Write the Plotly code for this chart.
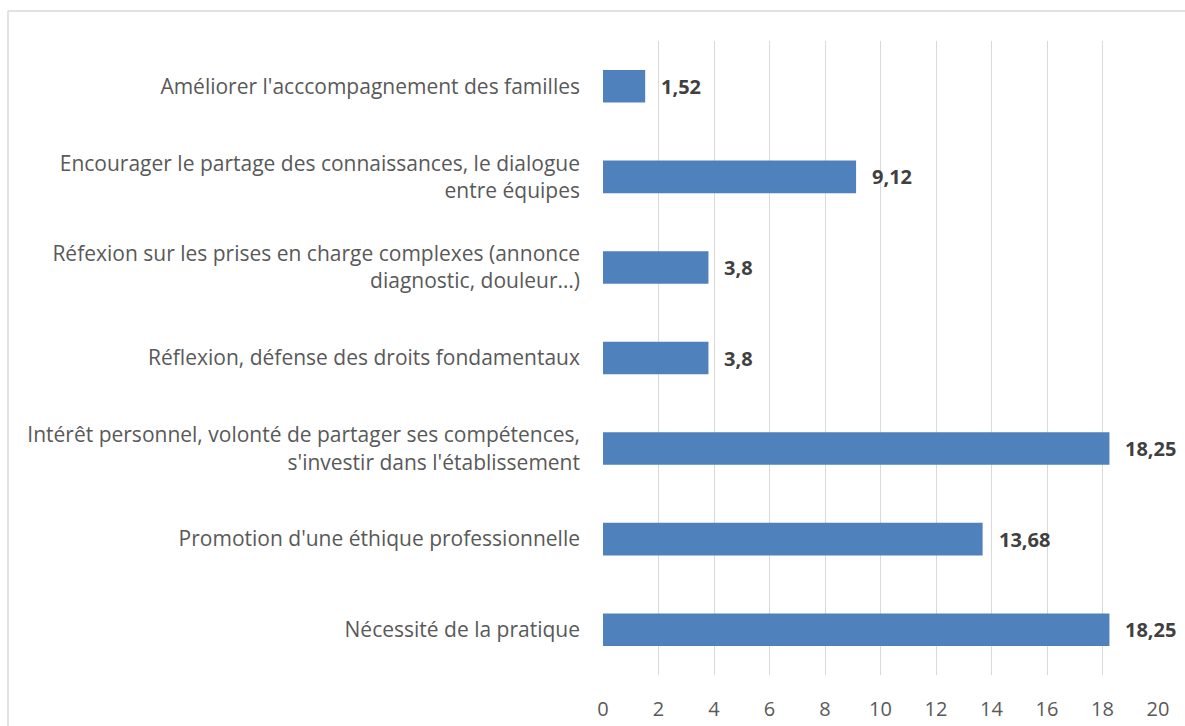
import plotly.graph_objects as go

categories = [
    "Améliorer l'acccompagnement des familles",
    "Encourager le partage des connaissances, le dialogue<br>entre équipes",
    "Réfexion sur les prises en charge complexes (annonce<br>diagnostic, douleur…)",
    "Réflexion, défense des droits fondamentaux",
    "Intérêt personnel, volonté de partager ses compétences,<br>s'investir dans l'établissement",
    "Promotion d'une éthique professionnelle",
    "Nécessité de la pratique",
]
values = [1.52, 9.12, 3.8, 3.8, 18.25, 13.68, 18.25]
labels = ["1,52", "9,12", "3,8", "3,8", "18,25", "13,68", "18,25"]
x_ticks = [0, 2, 4, 6, 8, 10, 12, 14, 16, 18, 20]

fig = go.Figure(
    go.Bar(
        x=values,
        y=categories,
        orientation="h",
        marker=dict(color="#4F81BD", line=dict(width=0)),
        hoverinfo="skip",
    )
)

for v, c, t in zip(values, categories, labels):
    fig.add_annotation(
        x=v, y=c, text="<b>" + t + "</b>", showarrow=False,
        xanchor="left", xshift=14,
        font=dict(family="Open Sans", size=20, color="#404040"),
    )

# chart border (top and left edges only visible)
fig.add_shape(type="line", xref="paper", yref="paper",
              x0=(8 - 603) / 555, x1=(1190 - 603) / 555,
              y0=1 + (41 - 11) / 634, y1=1 + (41 - 11) / 634,
              line=dict(color="#D9D9D9", width=1.5))
fig.add_shape(type="line", xref="paper", yref="paper",
              x0=(8 - 603) / 555, x1=(8 - 603) / 555,
              y0=1 + (41 - 11) / 634, y1=-(730 - 675) / 634,
              line=dict(color="#D9D9D9", width=1.5))

fig.update_layout(
    width=1185,
    height=726,
    margin=dict(l=603, r=27, t=41, b=51),
    paper_bgcolor="white",
    plot_bgcolor="white",
    bargap=0.64,
    showlegend=False,
    font=dict(family="Open Sans", size=20, color="#595959"),
)

fig.update_xaxes(
    range=[0, 20],
    tickvals=x_ticks,
    showgrid=True,
    gridcolor="#D9D9D9",
    gridwidth=1,
    zeroline=False,
    showline=False,
    automargin=False,
    ticklabelstandoff=20,
    tickfont=dict(size=20, color="#595959"),
)
fig.update_yaxes(
    autorange="reversed",
    showgrid=False,
    showline=False,
    automargin=False,
    ticklabelstandoff=22,
    tickfont=dict(size=21, color="#595959"),
)

fig.write_html(
    "out.html",
    config={"displayModeBar": False},
    post_script="document.body.style.margin='0';",
)
